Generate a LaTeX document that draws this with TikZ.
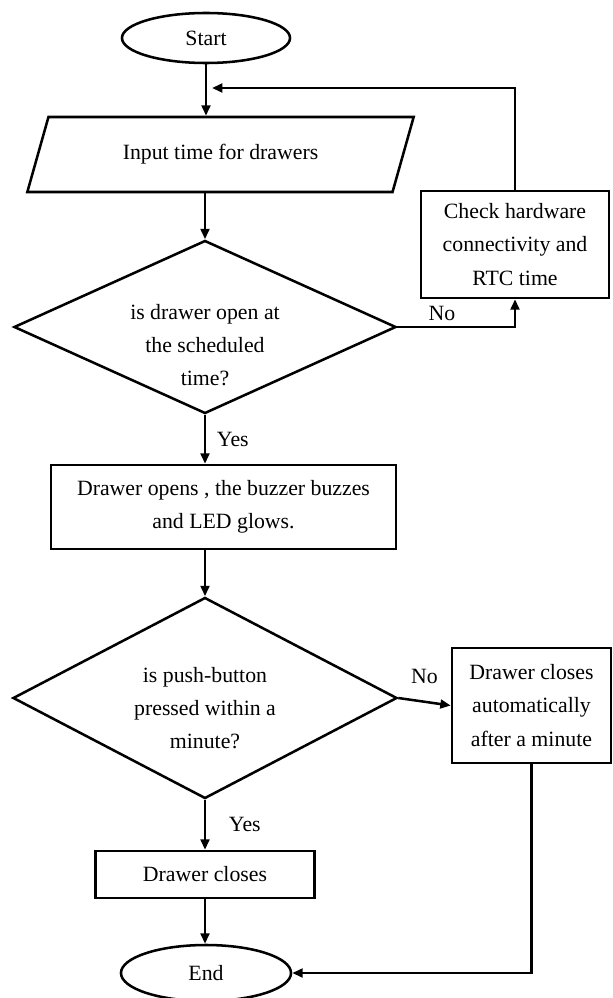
\documentclass[tikz,border=0pt]{standalone}
\usepackage{fontspec}
\setmainfont{Liberation Serif}
\usetikzlibrary{arrows.meta,positioning,shapes.geometric}
\tikzset{every node/.style={font=\fontsize{15.5}{23.5}\selectfont}}
\tikzset{flow/.style={draw=black,line width=1.8pt,inner sep=0pt,align=center}}
\tikzset{link/.style={-{Triangle[length=2.6mm,width=2.2mm]},line width=1.8pt}}

\begin{document}
\begin{tikzpicture}[x=0.025cm,y=-0.025cm]
% \draw[help lines] (0,0) grid (612,998);
\useasboundingbox (0,0) rectangle (612,998);
\node (start) [flow,ellipse,minimum width=4.2cm,minimum height=1.25cm] at (206,38) {Start};
\node (input) [flow,trapezium,trapezium left angle=59,trapezium right angle=121,trapezium stretches=true,minimum width=9.675cm,minimum height=1.875cm] at (220.5,154.5) {Input time for drawers};
\node (check) [flow,rectangle,minimum width=4.7cm,minimum height=2.675cm] at (515,244.5) {Check hardware\\connectivity and\\RTC time};
\node (ask1) [flow,diamond,minimum width=9.55cm,minimum height=4.325cm,label={[align=center,yshift=-0.45cm]center:is drawer open at\\the scheduled\\time?}] at (205,327) {};
\node (opens) [flow,rectangle,minimum width=8.625cm,minimum height=2.1cm] at (223.5,507) {Drawer opens , the buzzer buzzes\\and LED glows.};
\node (ask2) [flow,diamond,minimum width=9.6cm,minimum height=5.025cm,label={[align=center,yshift=-0.25cm]center:is push-button\\pressed within a\\minute?}] at (205,698) {};
\node (auto) [flow,rectangle,minimum width=3.975cm,minimum height=2.875cm] at (531.5,705.5) {Drawer closes\\automatically\\after a minute};
\node (closes) [flow,rectangle,minimum width=5.475cm,minimum height=1.175cm] at (205,874.5) {Drawer closes};
\node (end) [flow,ellipse,minimum width=4.25cm,minimum height=1.4cm] at (206,973) {End};
\coordinate (back) at (212,88);
%
\path[link] (start.south) edge (start.south |- input.north);
\draw[link] (check.north) |- (back);
\path[link] (ask1.north |- input.south) edge (ask1.north);
\draw[link] (ask1.east) -| node[above,pos=0.19] {No} (check.south);
\path[link] (ask1.south) edge node[right=0.15cm] {Yes} (ask1.south |- opens.north);
\path[link] (ask2.north |- opens.south) edge (ask2.north);
\path[link] (ask2.east) edge node[above=0.3cm] {No} (auto.west);
\path[link] (ask2.south) edge node[right=0.45cm] {Yes} (closes.north);
\path[link] (closes.south) edge (closes.south |- end.north);
\draw[link] (auto.south) |- (end.east);
%
\end{tikzpicture}
\end{document}
